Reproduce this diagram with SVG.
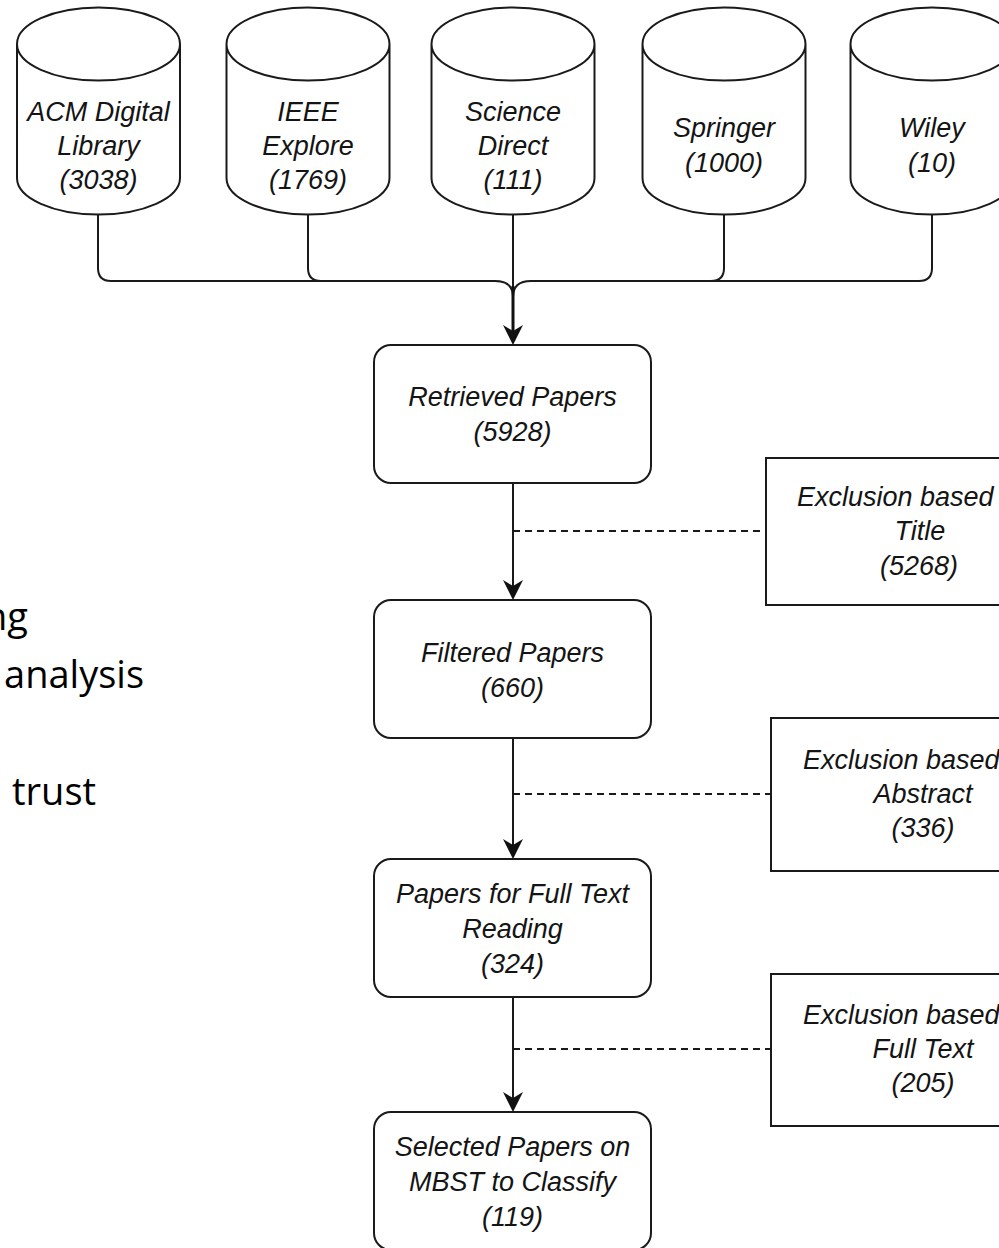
<svg xmlns="http://www.w3.org/2000/svg" width="999" height="1248" viewBox="0 0 999 1248">
<style>
  .shape { fill: #fff; stroke: #1a1a1a; stroke-width: 2; }
  .lbl { font-family: "Liberation Sans", Arial, sans-serif; font-style: italic; font-size: 27px; fill: #141414; text-anchor: middle; }
  .lbl-s { text-anchor: start; }
  .conn { fill: none; stroke: #1a1a1a; stroke-width: 2; }
  .trunk { fill: none; stroke: #111; stroke-width: 3; }
  .dash { fill: none; stroke: #1a1a1a; stroke-width: 2; stroke-dasharray: 7 5; }
  .side { font-family: "Open Sans", "Noto Sans", sans-serif; font-size: 38px; fill: #000; }
</style>
<defs>
  <marker id="arrow" viewBox="0 0 20 20" refX="6" refY="10" markerWidth="20" markerHeight="20" markerUnits="userSpaceOnUse" orient="auto">
    <path d="M0,0 L20,10 L0,20 L6,10 Z" fill="#111"/>
  </marker>
  <path id="cyl" d="M-81.5,44 A81.5,36.5 0 0 1 81.5,44 A81.5,36.5 0 0 1 -81.5,44 Z M-81.5,44 V178 A81.5,36.5 0 0 0 81.5,178 V44"/>
</defs>
<rect width="999" height="1248" fill="#fff"/>

<g id="side-text">
  <text class="side" x="28" y="630" text-anchor="end">ng</text>
  <text class="side" x="144" y="688" text-anchor="end">analysis</text>
  <text class="side" x="12" y="805">trust</text>
</g>

<g id="connectors">
  <path class="conn" d="M98,215 V268 Q98,281 111,281 H495 Q513,281 513,297"/>
  <path class="conn" d="M308,215 V268 Q308,281 321,281"/>
  <path class="conn" d="M932,215 V268 Q932,281 919,281 H531 Q513,281 513,297"/>
  <path class="conn" d="M724,215 V268 Q724,281 711,281"/>
  <path class="conn" d="M513,215 V292"/>
  <path class="trunk" d="M513,286 V331" marker-end="url(#arrow)"/>
  <path class="conn" d="M513,483 V586" marker-end="url(#arrow)"/>
  <path class="conn" d="M513,738 V845" marker-end="url(#arrow)"/>
  <path class="conn" d="M513,997 V1098" marker-end="url(#arrow)"/>
  <path class="dash" d="M513,531 H766"/>
  <path class="dash" d="M513,794 H771"/>
  <path class="dash" d="M513,1049 H771"/>
</g>

<g id="acm">
  <use href="#cyl" class="shape" x="98.5" y="0"/>
  <text class="lbl" x="98.5" y="121">ACM Digital</text>
  <text class="lbl" x="98.5" y="155">Library</text>
  <text class="lbl" x="98.5" y="189">(3038)</text>
</g>
<g id="ieee">
  <use href="#cyl" class="shape" x="308" y="0"/>
  <text class="lbl" x="308" y="121">IEEE</text>
  <text class="lbl" x="308" y="155">Explore</text>
  <text class="lbl" x="308" y="189">(1769)</text>
</g>
<g id="sciencedirect">
  <use href="#cyl" class="shape" x="513" y="0"/>
  <text class="lbl" x="513" y="121">Science</text>
  <text class="lbl" x="513" y="155">Direct</text>
  <text class="lbl" x="513" y="189">(111)</text>
</g>
<g id="springer">
  <use href="#cyl" class="shape" x="724" y="0"/>
  <text class="lbl" x="724" y="137">Springer</text>
  <text class="lbl" x="724" y="172">(1000)</text>
</g>
<g id="wiley">
  <use href="#cyl" class="shape" x="932" y="0"/>
  <text class="lbl" x="932" y="137">Wiley</text>
  <text class="lbl" x="932" y="172">(10)</text>
</g>

<g id="retrieved">
  <rect class="shape" x="374" y="345" width="277" height="138" rx="17"/>
  <text class="lbl" x="512.5" y="406">Retrieved Papers</text>
  <text class="lbl" x="512.5" y="441">(5928)</text>
</g>
<g id="filtered">
  <rect class="shape" x="374" y="600" width="277" height="138" rx="17"/>
  <text class="lbl" x="512.5" y="662">Filtered Papers</text>
  <text class="lbl" x="512.5" y="697">(660)</text>
</g>
<g id="fulltext">
  <rect class="shape" x="374" y="859" width="277" height="138" rx="17"/>
  <text class="lbl" x="512.5" y="903">Papers for Full Text</text>
  <text class="lbl" x="512.5" y="938">Reading</text>
  <text class="lbl" x="512.5" y="973">(324)</text>
</g>
<g id="selected">
  <rect class="shape" x="374" y="1112" width="277" height="138" rx="17"/>
  <text class="lbl" x="512.5" y="1156">Selected Papers on</text>
  <text class="lbl" x="512.5" y="1191">MBST to Classify</text>
  <text class="lbl" x="512.5" y="1226">(119)</text>
</g>

<g id="excl-title">
  <rect class="shape" x="766" y="458" width="310" height="147"/>
  <text class="lbl lbl-s" x="797" y="506">Exclusion based</text>
  <text class="lbl" x="920" y="540">Title</text>
  <text class="lbl" x="919" y="575">(5268)</text>
</g>
<g id="excl-abstract">
  <rect class="shape" x="771" y="718" width="310" height="153"/>
  <text class="lbl lbl-s" x="803" y="769">Exclusion based</text>
  <text class="lbl" x="923" y="803">Abstract</text>
  <text class="lbl" x="923" y="837">(336)</text>
</g>
<g id="excl-fulltext">
  <rect class="shape" x="771" y="974" width="310" height="152"/>
  <text class="lbl lbl-s" x="803" y="1024">Exclusion based</text>
  <text class="lbl" x="923" y="1058">Full Text</text>
  <text class="lbl" x="923" y="1092">(205)</text>
</g>
</svg>
